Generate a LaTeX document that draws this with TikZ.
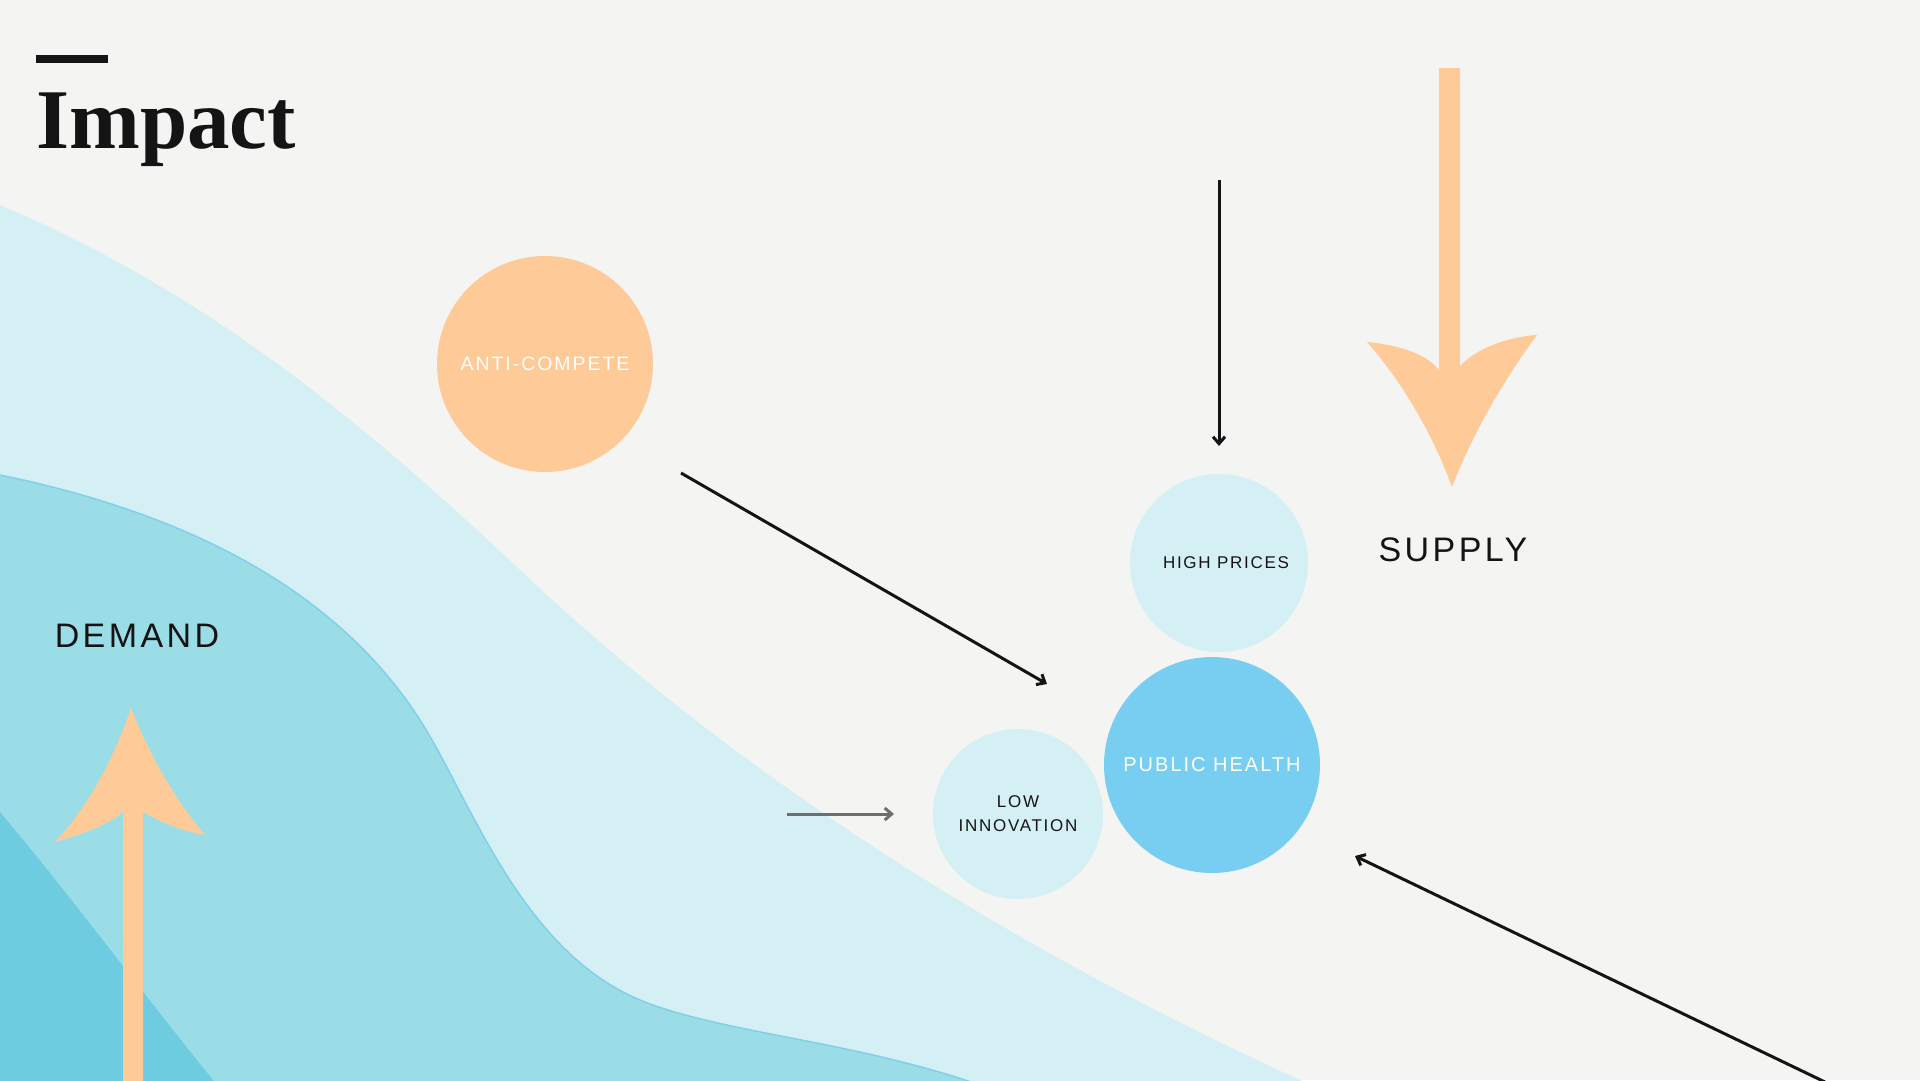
\documentclass[tikz,border=0pt]{standalone}
\usepackage{fontspec}
\usetikzlibrary{arrows.meta}
\newfontfamily\titlefont{Liberation Serif}
\newfontfamily\tagfont[LetterSpace=10]{Liberation Sans}
\definecolor{paper}{HTML}{F4F4F2}
\definecolor{paleblue}{HTML}{D5F0F4}
\definecolor{midblue}{HTML}{9BDDE7}
\definecolor{deepblue}{HTML}{6ECCE0}
\definecolor{edgeblue}{HTML}{82CFEA}
\definecolor{peach}{HTML}{FDCA98}
\definecolor{skyblue}{HTML}{78CEF0}
\definecolor{inkgray}{HTML}{6E6E6E}
\definecolor{ink}{HTML}{141414}

\begin{document}
\begin{tikzpicture}[x=1pt,y=-1pt,>={Straight Barb[length=7pt,width=12pt]},
  bubble/.style={circle,inner sep=0pt,align=center,text=ink},
  small/.style={font=\tagfont\fontsize{17}{24}\selectfont},
  side/.style={font=\tagfont\fontsize{34}{40}\selectfont,text=ink},
  link/.style={->,line width=3pt,ink}]
  \useasboundingbox (0,0) rectangle (1920,1080);
  \clip (0,0) rectangle (1920,1080);
  \fill[paper] (0,0) rectangle (1920,1080);
  % waves
  \fill[paleblue] (-20,196) -- (0,205) .. controls (200,290) and (350,410) .. (520,570)
    .. controls (700,740) and (950,920) .. (1300,1080) -- (1340,1105) -- (-20,1105) -- cycle;
  \filldraw[fill=midblue,draw=edgeblue,line width=1.5pt] (-20,471) -- (0,475)
    .. controls (170,510) and (330,580) .. (420,720)
    .. controls (470,798) and (520,950) .. (640,1000)
    .. controls (720,1033) and (850,1040) .. (980,1085)
    -- (1000,1200) -- (-40,1200) -- cycle;
  \fill[deepblue] (0,812) .. controls (70,895) and (140,990) .. (213,1080)
    -- (230,1100) -- (-10,1100) -- cycle;
  % big arrows
  \fill[peach] (131,708) .. controls (115,755) and (90,805) .. (55,842)
    .. controls (80,835) and (108,825) .. (123,812) -- (123,1090) -- (143,1090) -- (143,812)
    .. controls (160,822) and (185,832) .. (205,835)
    .. controls (175,800) and (148,752) .. (131,708) -- cycle;
  \fill[peach] (1452,487) .. controls (1435,440) and (1405,385) .. (1367,342)
    .. controls (1400,345) and (1428,355) .. (1439,370) -- (1439,68) -- (1460,68) -- (1460,366)
    .. controls (1475,350) and (1505,337) .. (1537,335)
    .. controls (1500,385) and (1470,440) .. (1452,487) -- cycle;
  % title
  \fill[ink] (36,55) rectangle (108,63);
  \node[anchor=base west,inner sep=0pt,text=ink,
    font=\titlefont\bfseries\fontsize{85}{85}\selectfont] (title) at (36,148) {Impact};
  % bubbles
  \node[bubble,fill=peach,minimum size=216pt,text=white,
    font=\tagfont\fontsize{19.5}{24}\selectfont] (anti) at (545,364) {ANTI-COMPETE};
  \node[bubble,small,fill=paleblue,minimum size=178pt] (prices) at (1219,563) {\hspace*{14pt}HIGH PRICES};
  \node[bubble,fill=skyblue,minimum size=216pt,text=white,
    font=\tagfont\fontsize{20}{24}\selectfont] (health) at (1212,765) {PUBLIC HEALTH};
  \node[bubble,small,fill=paleblue,minimum size=170pt] (innov) at (1018,814) {LOW\\INNOVATION};
  \node[side] (demand) at (137,636) {DEMAND};
  \node[side] (supply) at (1453,550) {SUPPLY};
  % connectors
  \coordinate (pricesIn) at (1219,180);
  \coordinate (pricesTip) at (1219,446);
  \coordinate (antiOut) at (681,473);
  \coordinate (innovTip) at (1047,684);
  \coordinate (waveOut) at (787,814);
  \coordinate (waveTip) at (894,814);
  \coordinate (cornerIn) at (1825,1082);
  \coordinate (healthTip) at (1355,856);
  \draw[link] (pricesIn) -- (pricesTip);
  \draw[link] (antiOut) -- (innovTip);
  \draw[link,inkgray] (waveOut) -- (waveTip);
  \draw[link] (cornerIn) -- (healthTip);
\end{tikzpicture}
\end{document}
